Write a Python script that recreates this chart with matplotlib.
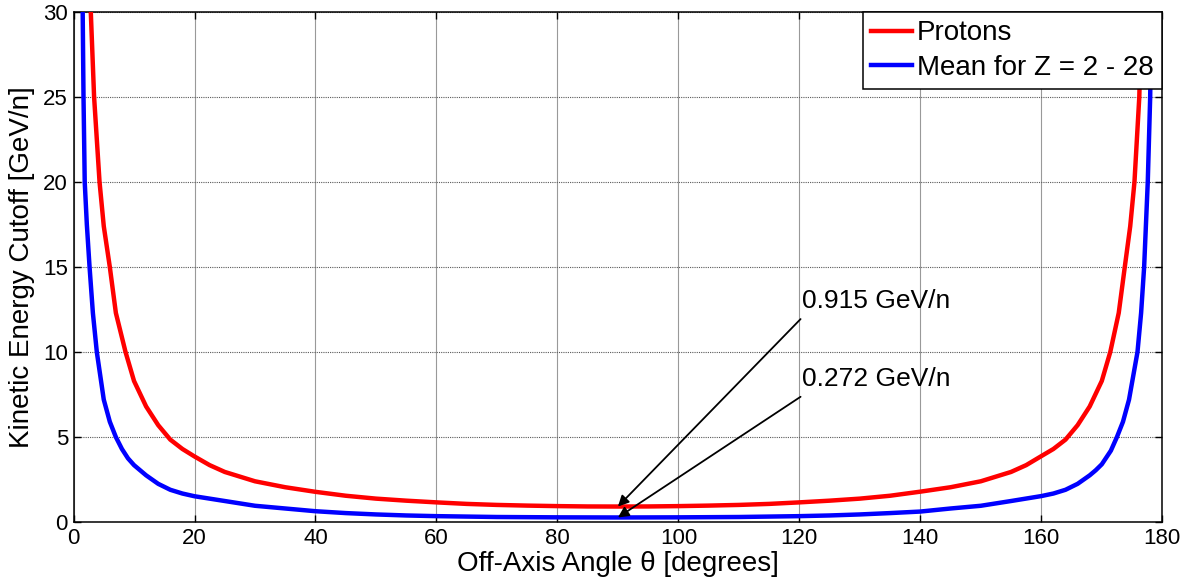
import matplotlib
matplotlib.use("Agg")
import matplotlib.pyplot as plt

plt.rcParams['font.family'] = ['Liberation Sans', 'DejaVu Sans']

# Off-axis angle (degrees) and kinetic energy cutoff (GeV/n)
proton_angle = [2.8, 3.4, 4.3, 5.0, 6.0, 7.0, 8.6, 10, 12, 14, 16, 18, 20, 22.5, 25, 30, 35, 40, 45,
                50, 55, 60, 65, 70, 75, 80, 85, 90,
                95, 100, 105, 110, 115, 120, 125, 130, 135, 140, 145, 150, 155, 157.5, 160,
                162, 164, 166, 168, 170, 171.4, 172.8, 173.8, 174.7, 175.4, 176.2, 176.6]
proton_energy = [30.5, 25, 20, 17.4, 15, 12.3, 10, 8.3, 6.8, 5.7, 4.85, 4.3, 3.86, 3.35, 2.95, 2.4, 2.05,
                 1.78, 1.55, 1.38, 1.26, 1.16, 1.07, 1.01, 0.97, 0.94, 0.92, 0.915,
                 0.92, 0.94, 0.97, 1.01, 1.07, 1.16, 1.26, 1.38, 1.55, 1.79, 2.05, 2.4, 2.95, 3.35,
                 3.88, 4.3, 4.85, 5.7, 6.8, 8.3, 10, 12.3, 15, 17.4, 20, 25, 30.5]

mean_angle = [1.5, 1.65, 1.85, 2.2, 2.65, 3.2, 3.85, 5.0, 6.0, 7.0, 8.0, 9.0, 10, 12, 14, 16, 18,
              20, 25, 30, 35, 40, 45, 50, 55, 60, 70, 80, 90,
              100, 110, 120, 125, 130, 135, 140, 145, 150, 155, 160, 162, 164, 166, 168, 169, 170,
              171.5, 172.5, 173.5, 174.5, 175.9, 176.5, 177.0, 177.3, 177.6, 178.0, 178.2]
mean_energy = [30.5, 25, 20, 17.5, 15, 12.3, 10, 7.2, 5.9, 5.0, 4.3, 3.75, 3.35, 2.75, 2.25, 1.9, 1.68,
               1.52, 1.24, 0.96, 0.8, 0.64, 0.53, 0.45, 0.39, 0.35, 0.30, 0.28, 0.272,
               0.28, 0.30, 0.35, 0.39, 0.45, 0.53, 0.62, 0.8, 0.96, 1.24, 1.53, 1.68, 1.9, 2.25, 2.75,
               3.05, 3.4, 4.2, 5.0, 5.9, 7.2, 10, 12.3, 15, 17.5, 20, 25, 30.5]

series_labels = ['Protons', 'Mean for Z = 2 - 28']
annot_labels = ['0.915 GeV/n', '0.272 GeV/n']
annot_values = [0.915, 0.272]
annot_angle = 90
x_ticks = [0, 20, 40, 60, 80, 100, 120, 140, 160, 180]
y_ticks = [0, 5, 10, 15, 20, 25, 30]

fig = plt.figure(figsize=(11.86, 5.84), dpi=100)
ax = fig.add_axes([0.062, 0.106, 0.918, 0.8735])

ax.plot(proton_angle, proton_energy, color='#ff0000', lw=3.2, label=series_labels[0], zorder=3)
ax.plot(mean_angle, mean_energy, color='#0000ff', lw=3.2, label=series_labels[1], zorder=3)

ax.set_xlim(0, 180)
ax.set_ylim(0, 30)
ax.set_xticks(x_ticks)
ax.set_yticks(y_ticks)
ax.tick_params(direction='in', length=5, width=1, top=True, right=True,
               labelsize=16, pad=4)
for s in ax.spines.values():
    s.set_linewidth(1.1)

ax.xaxis.grid(True, color='0.6', lw=0.8, ls='-')
ax.yaxis.grid(True, color='0.35', lw=0.8, ls=(0, (1, 1)))
ax.set_axisbelow(True)

ax.set_xlabel('Off-Axis Angle θ [degrees]', fontsize=20, labelpad=2)
ax.set_ylabel('Kinetic Energy Cutoff [GeV/n]', fontsize=20, labelpad=6)

text_pos = [(120.5, 12.3), (120.5, 7.7)]
tail_pos = [(120.2, 11.94), (120.2, 7.37)]
for lab, val, tp, tl in zip(annot_labels, annot_values, text_pos, tail_pos):
    ax.annotate('', xy=(annot_angle, val), xytext=tl,
                arrowprops=dict(arrowstyle='-|>', color='k', lw=1.3, mutation_scale=16,
                                shrinkA=0, shrinkB=0), zorder=5)
    ax.text(tp[0], tp[1], lab, fontsize=19, ha='left', va='bottom', zorder=5)

leg = ax.legend(loc='upper right', fontsize=20, frameon=True, fancybox=False,
                borderaxespad=0, handlelength=1.45, handletextpad=0.2,
                borderpad=0.3, labelspacing=0.3, framealpha=1)
leg.get_frame().set_edgecolor('k')
leg.get_frame().set_linewidth(1.1)

fig.savefig('out.png', dpi=100)
